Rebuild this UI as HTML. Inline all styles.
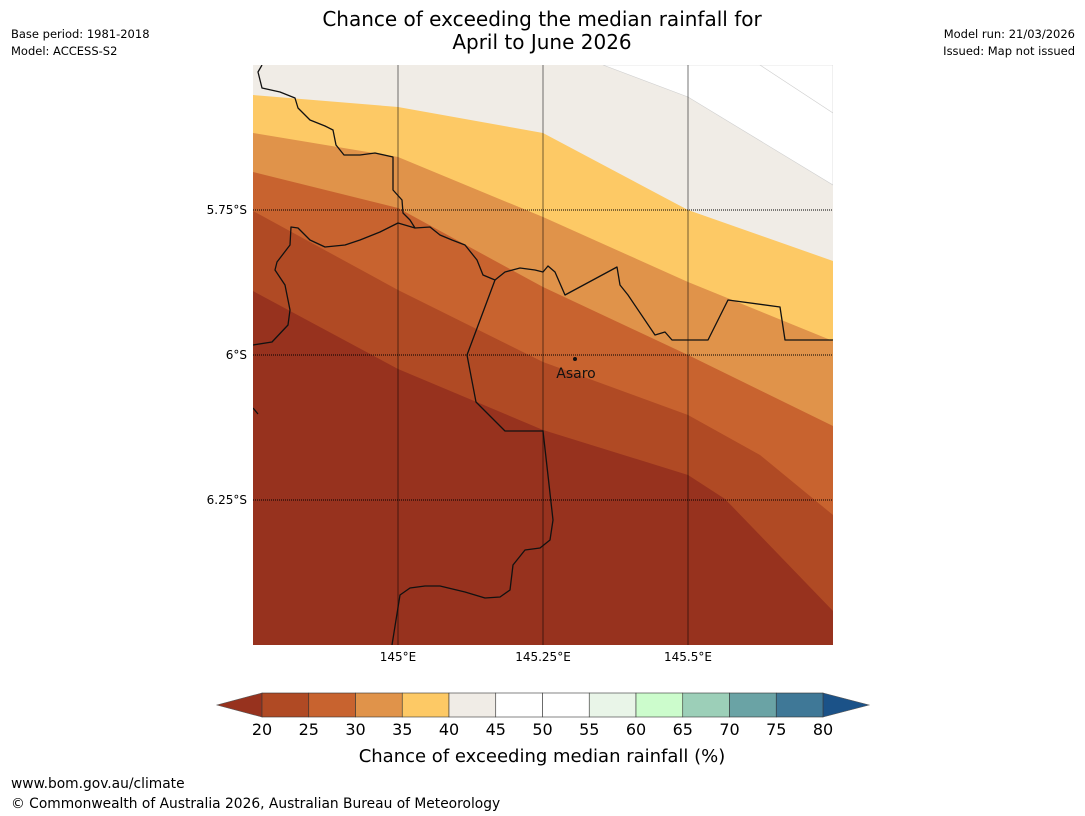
<!DOCTYPE html>
<html><head><meta charset="utf-8"><style>
body{margin:0;background:#fff;width:1085px;height:816px;overflow:hidden;font-family:"DejaVu Sans","Liberation Sans",sans-serif}
svg{position:absolute;left:0;top:0}
</style></head><body>
<svg id="s" width="1085" height="816">
<text x="542" y="26" font-size="20" text-anchor="middle">Chance of exceeding the median rainfall for</text>
<text x="542" y="49" font-size="20" text-anchor="middle">April to June 2026</text>
<text x="11" y="38" font-size="11.5">Base period: 1981-2018</text>
<text x="11" y="55" font-size="11.5">Model: ACCESS-S2</text>
<text x="1075" y="38" font-size="11.5" text-anchor="end">Model run: 21/03/2026</text>
<text x="1075" y="55" font-size="11.5" text-anchor="end">Issued: Map not issued</text>
<g id="map"></g>
<g id="cb"></g>
<text x="542" y="762" font-size="18" text-anchor="middle">Chance of exceeding median rainfall (%)</text>
<text x="11" y="788" font-size="13.8">www.bom.gov.au/climate</text>
<text x="11" y="808" font-size="13.8">© Commonwealth of Australia 2026, Australian Bureau of Meteorology</text>
</svg>
<script>
const levelColors=["#97321e","#b04a24","#c8632f","#e0934a","#fdc965","#f0ece6","#ffffff"];
const contour20=[[144.75,-5.8897],[145,-6.0241],[145.25,-6.1293],[145.5,-6.2069],[145.5638,-6.2483],[145.75,-6.4414]];
const contour25=[[144.75,-5.7517],[145,-5.8879],[145.25,-6.0121],[145.5,-6.1034],[145.6241,-6.1724],[145.75,-6.2759]];
const contour30=[[144.75,-5.6845],[145,-5.7466],[145.25,-5.8828],[145.5,-6.0],[145.75,-6.1224]];
const contour35=[[144.75,-5.6172],[145,-5.6586],[145.25,-5.7621],[145.5,-5.8741],[145.75,-5.9759]];
const contour40=[[144.75,-5.5517],[145,-5.5724],[145.25,-5.6172],[145.5,-5.75],[145.75,-5.8379]];
const contour45=[[145.3534,-5.5],[145.5,-5.5552],[145.75,-5.7069]];
const contour50=[[145.6241,-5.5],[145.75,-5.5828]];
const lonTicks=[145,145.25,145.5];
const lonLabels=["145°E","145.25°E","145.5°E"];
const latTicks=[-5.75,-6,-6.25];
const latLabels=["5.75°S","6°S","6.25°S"];
const cbLevels=[20,25,30,35,40,45,50,55,60,65,70,75,80];
const cbColors=["#b04a24","#c8632f","#e0934a","#fdc965","#f0ece6","#ffffff","#ffffff","#e9f5e8","#ccfccc","#9ccfb8","#6aa3a5","#3f7897"];
const coast1=[[262,65],[258,72],[262,88],[280,92],[295,98],[298,108],[310,120],[325,126],[333,130],[336,145],[344,155],[360,155],[375,153],[393,157],[393,190],[402,200],[403,213],[410,220],[415,228],[430,227],[440,235],[452,240],[465,245],[477,260],[483,275],[495,280],[505,272],[520,268],[535,270],[543,272],[548,266],[555,272],[565,295],[617,267],[620,285],[628,295],[655,335],[665,332],[672,340],[708,340],[728,300],[780,307],[785,340],[833,340]];
const coast2=[[415,228],[398,223],[380,232],[360,240],[345,245],[325,247],[310,240],[298,228],[291,227],[290,245],[277,262],[275,270],[285,285],[290,310],[288,325],[272,342],[253,345]];
const coast3=[[495,280],[467,355],[476,402],[505,431],[543,431],[553,520],[550,540],[540,548],[525,550],[513,565],[510,590],[500,597],[485,598],[465,592],[440,586],[425,586],[410,588],[400,595],[392,645]];
const coast4=[[253,408],[258,414]];
const NS="http://www.w3.org/2000/svg";
const X0=253,X1=833,Y0=65,Y1=645;
const xs=lon=>398+(lon-145)*580;
const ys=lat=>210+(-5.75-lat)*580;
function mk(t,a,p){const e=document.createElementNS(NS,t);for(const k in a)e.setAttribute(k,a[k]);(p||map).appendChild(e);return e;}
const map=document.getElementById('map');
const cb=document.getElementById('cb');
const cp=mk('clipPath',{id:'clip'});
mk('rect',{x:X0,y:Y0,width:X1-X0,height:Y1-Y0},cp);
const g=mk('g',{'clip-path':'url(#clip)'});
let r=mk('rect',{x:X0,y:Y0,width:X1-X0,height:Y1-Y0,fill:levelColors[0]},g);


const contours=[contour20,contour25,contour30,contour35,contour40,contour45,contour50];
contours.forEach((c,i)=>{
  let pts=c.map(p=>xs(p[0])+','+ys(p[1]));
  if(i<5){pts.push(X1+','+Y0,X0+','+Y0);}
  else{pts.push(X1+','+Y0);}
  const p=mk('polygon',{points:pts.join(' '),fill:levelColors[Math.min(i+1,6)],stroke:i>=5?'#cfcfcf':'none','stroke-width':0.6},g);
  
  
});
lonTicks.forEach((l,i)=>{
  const x=xs(l);
  const ln=mk('line',{x1:x,y1:Y0,x2:x,y2:Y1,stroke:'#000','stroke-opacity':0.45,'stroke-width':1.2},g);
  
  
  const t=mk('text',{x:x,y:661,'font-size':12,'text-anchor':'middle'});
  t.textContent=lonLabels[i];
  
  
});
latTicks.forEach((l,i)=>{
  const y=ys(l);
  const ln=mk('line',{x1:X0,y1:y,x2:X1,y2:y,stroke:'#000','stroke-width':1,'stroke-dasharray':'1,1'},g);
  
  
  const t=mk('text',{x:247,y:y+4,'font-size':12,'text-anchor':'end'});
  t.textContent=latLabels[i];
  
  
});
[coast1,coast2,coast3,coast4].forEach(c=>{
  const p=mk('polyline',{points:c.map(q=>q.join(',')).join(' '),fill:'none',stroke:'#111','stroke-width':1.3,'stroke-linejoin':'round'},g);
  
  
});
const dot=mk('circle',{cx:575,cy:359,r:2,fill:'#111'});


const at=mk('text',{x:576,y:378,'font-size':14,'text-anchor':'middle',fill:'#111'});
at.textContent='Asaro';


const CX0=262,CX1=823,CY0=693,CY1=717;
const cx=v=>CX0+(v-20)/60*(CX1-CX0);
let tri=mk('polygon',{points:`${CX0},${CY0} ${CX0},${CY1} 217,705`,fill:'#97321e',stroke:'#555','stroke-width':0.6},cb);


tri=mk('polygon',{points:`${CX1},${CY0} ${CX1},${CY1} 869,705`,fill:'#1b5288',stroke:'#555','stroke-width':0.6},cb);


cbColors.forEach((c,i)=>{
  const b=mk('rect',{x:cx(cbLevels[i]),y:CY0,width:cx(cbLevels[i+1])-cx(cbLevels[i]),height:CY1-CY0,fill:c,stroke:'#333','stroke-width':0.6},cb);
  
  
});
cbLevels.forEach(v=>{
  const t=mk('text',{x:cx(v),y:735,'font-size':16,'text-anchor':'middle'},cb);
  t.textContent=v;
  
  
});
</script>
</body></html>
